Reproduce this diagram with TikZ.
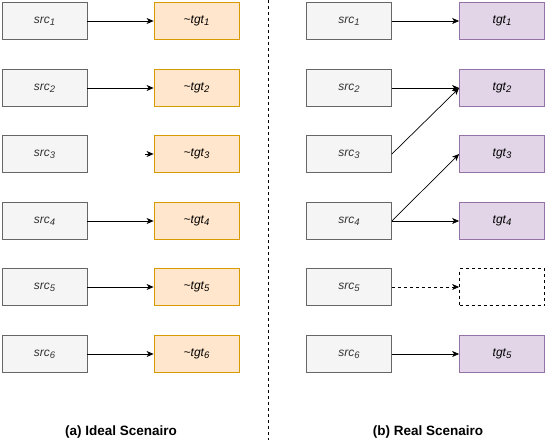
\documentclass[tikz,border=0pt]{standalone}
\usepackage{fontspec}
\setmainfont{Liberation Sans}
\usetikzlibrary{arrows.meta,calc}
\definecolor{srcfill}{HTML}{F5F5F5}
\definecolor{srcline}{HTML}{666666}
\definecolor{srctext}{HTML}{333333}
\definecolor{orfill}{HTML}{FFE6CC}
\definecolor{orline}{HTML}{D79B00}
\definecolor{pufill}{HTML}{E1D5E7}
\definecolor{puline}{HTML}{9673A6}
\newcommand{\mysub}[1]{\raisebox{-0.35ex}{\fontsize{9.5}{11}\selectfont #1}}
\begin{document}
\begin{tikzpicture}[x=1pt,y=-1pt,
  box/.style={minimum width=85pt,minimum height=37pt,inner sep=0pt,line width=0.8pt,font=\fontsize{12}{14}\selectfont\itshape},
  srcbox/.style={box,draw=srcline,fill=srcfill,text=srctext},
  orbox/.style={box,draw=orline,fill=orfill},
  pubox/.style={box,draw=puline,fill=pufill},
  emptybox/.style={box,draw=black,dashed,fill=white},
  arr/.style={-{Stealth[length=7pt,width=6pt,inset=2pt]},line width=0.7pt},
  captext/.style={font=\fontsize{13.5}{16}\selectfont\bfseries}]
\useasboundingbox (0,0) rectangle (546,440);
% left
\foreach \i/\y in {1/21,2/88,3/154,4/221,5/287,6/354}{
  \node[srcbox] (ls\i) at (44.5,\y) {src\mysub{\i}};
}
\foreach \i/\y in {1/21,2/88,3/154,4/221,5/287,6/354}{
  \node[orbox] (lt\i) at (196.5,\y) {\textasciitilde tgt\mysub{\i}};
}
\draw[arr] (ls1) -- (lt1);
\draw[arr] (ls2) -- (lt2);
\coordinate (l3s) at (145,154);
\draw[arr] (l3s) -- (lt3);
\draw[arr] (ls4) -- (lt4);
\draw[arr] (ls5) -- (lt5);
\draw[arr] (ls6) -- (lt6);
% divider
\coordinate (d1) at (268,0);
\coordinate (d2) at (268,440);
\draw[line width=0.8pt,dash pattern=on 3pt off 3pt] (d1) -- (d2);
% right
\foreach \i/\y in {1/21,2/88,3/154,4/221,5/287,6/354}{
  \node[srcbox] (rs\i) at (349,\y) {src\mysub{\i}};
}
\node[pubox] (rt1) at (502,21) {tgt\mysub{1}};
\node[pubox] (rt2) at (502,88) {tgt\mysub{2}};
\node[pubox] (rt3) at (502,154) {tgt\mysub{3}};
\node[pubox] (rt4) at (502,221) {tgt\mysub{4}};
\node[emptybox] (rt0) at (502,287) {};
\node[pubox] (rt5) at (502,354) {tgt\mysub{5}};
\draw[arr] (rs1) -- (rt1);
\draw[arr] (rs2) -- (rt2);
\draw[arr] (rs3.east) -- (rt2.west);
\draw[arr] (rs4.east) -- (rt3.west);
\draw[arr] (rs4) -- (rt4);
\draw[arr,dashed] (rs5) -- (rt0);
\draw[arr] (rs6) -- (rt5);
% captions
\node[captext] (c1) at (121,432) {(a) Ideal Scenairo};
\node[captext] (c2) at (428,432) {(b) Real Scenairo};
\end{tikzpicture}
\end{document}
